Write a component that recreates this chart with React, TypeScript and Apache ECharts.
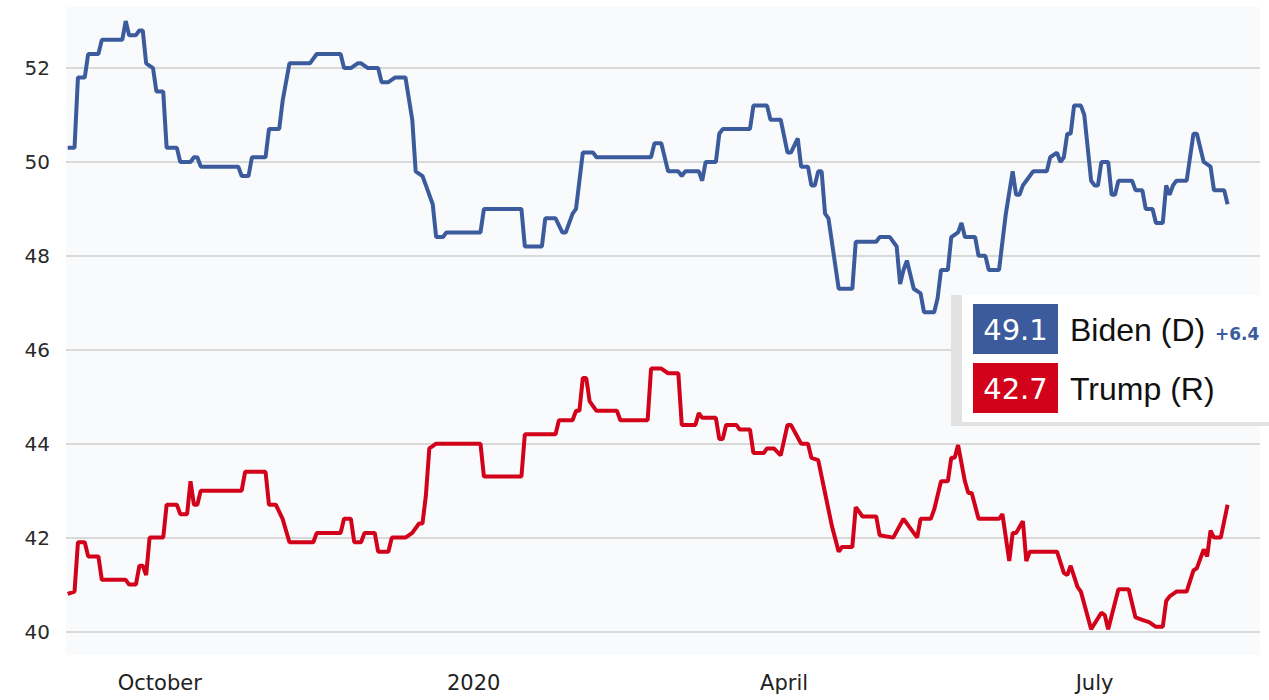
import React, { useEffect, useRef } from "react";
import * as echarts from "echarts";

const bidenDates = [
  "2019-09-04","2019-09-06","2019-09-07","2019-09-09","2019-09-10","2019-09-13","2019-09-14","2019-09-20","2019-09-21","2019-09-22",
  "2019-09-24","2019-09-25","2019-09-26","2019-09-27","2019-09-29","2019-09-30","2019-10-02","2019-10-03","2019-10-06","2019-10-07",
  "2019-10-10","2019-10-11","2019-10-12","2019-10-13","2019-10-24","2019-10-25","2019-10-27","2019-10-28","2019-11-01","2019-11-02",
  "2019-11-05","2019-11-06","2019-11-08","2019-11-14","2019-11-16","2019-11-23","2019-11-24","2019-11-26","2019-11-28","2019-11-29",
  "2019-12-01","2019-12-04","2019-12-05","2019-12-07","2019-12-09","2019-12-12","2019-12-14","2019-12-15","2019-12-17","2019-12-18",
  "2019-12-20","2019-12-21","2019-12-23","2019-12-24","2020-01-03","2020-01-04","2020-01-15","2020-01-16","2020-01-21","2020-01-22",
  "2020-01-25","2020-01-27","2020-01-28","2020-01-30","2020-01-31","2020-02-02","2020-02-05","2020-02-06","2020-02-22","2020-02-23",
  "2020-02-25","2020-02-27","2020-03-01","2020-03-02","2020-03-03","2020-03-07","2020-03-08","2020-03-09","2020-03-12","2020-03-13",
  "2020-03-14","2020-03-22","2020-03-23","2020-03-27","2020-03-28","2020-03-31","2020-04-02","2020-04-03","2020-04-05","2020-04-06",
  "2020-04-08","2020-04-09","2020-04-10","2020-04-11","2020-04-12","2020-04-13","2020-04-14","2020-04-17","2020-04-21","2020-04-22",
  "2020-04-28","2020-04-29","2020-05-02","2020-05-04","2020-05-05","2020-05-06","2020-05-07","2020-05-09","2020-05-11","2020-05-12",
  "2020-05-15","2020-05-16","2020-05-17","2020-05-19","2020-05-20","2020-05-22","2020-05-23","2020-05-24","2020-05-27","2020-05-28",
  "2020-05-30","2020-05-31","2020-06-03","2020-06-05","2020-06-07","2020-06-08","2020-06-09","2020-06-10","2020-06-11","2020-06-13",
  "2020-06-17","2020-06-18","2020-06-20","2020-06-21","2020-06-22","2020-06-23","2020-06-24","2020-06-25","2020-06-27","2020-06-28",
  "2020-06-29","2020-06-30","2020-07-01","2020-07-02","2020-07-03","2020-07-05","2020-07-06","2020-07-07","2020-07-08","2020-07-12",
  "2020-07-13","2020-07-15","2020-07-16","2020-07-18","2020-07-19","2020-07-21","2020-07-22","2020-07-23","2020-07-24","2020-07-25",
  "2020-07-28","2020-07-30","2020-07-31","2020-08-02","2020-08-04","2020-08-05","2020-08-08","2020-08-09"
];
const bidenValues = [
  50.3,50.3,51.8,51.8,52.3,52.3,52.6,52.6,53.0,52.7,
  52.7,52.8,52.8,52.1,52.0,51.5,51.5,50.3,50.3,50.0,
  50.0,50.1,50.1,49.9,49.9,49.7,49.7,50.1,50.1,50.7,
  50.7,51.3,52.1,52.1,52.3,52.3,52.0,52.0,52.1,52.1,
  52.0,52.0,51.7,51.7,51.8,51.8,50.9,49.8,49.7,49.5,
  49.1,48.4,48.4,48.5,48.5,49.0,49.0,48.2,48.2,48.8,
  48.8,48.5,48.5,48.9,49.0,50.2,50.2,50.1,50.1,50.4,
  50.4,49.8,49.8,49.7,49.8,49.8,49.6,50.0,50.0,50.6,
  50.7,50.7,51.2,51.2,50.9,50.9,50.2,50.2,50.5,49.9,
  49.9,49.5,49.5,49.8,49.8,48.9,48.8,47.3,47.3,48.3,
  48.3,48.4,48.4,48.2,47.4,47.7,47.9,47.3,47.2,46.8,
  46.8,47.1,47.7,47.7,48.4,48.5,48.7,48.4,48.4,48.0,
  48.0,47.7,47.7,48.9,49.8,49.3,49.3,49.5,49.6,49.8,
  49.8,50.1,50.2,50.0,50.1,50.6,50.6,51.2,51.2,51.0,
  50.3,49.6,49.5,49.5,50.0,50.0,49.3,49.3,49.6,49.6,
  49.4,49.4,49.0,49.0,48.7,48.7,49.5,49.3,49.5,49.6,
  49.6,50.6,50.6,50.0,49.9,49.4,49.4,49.1
];

const trumpDates = [
  "2019-09-04","2019-09-06","2019-09-07","2019-09-09","2019-09-10","2019-09-13","2019-09-14","2019-09-21","2019-09-22","2019-09-24",
  "2019-09-25","2019-09-26","2019-09-27","2019-09-28","2019-10-02","2019-10-03","2019-10-06","2019-10-07","2019-10-09","2019-10-10",
  "2019-10-11","2019-10-12","2019-10-13","2019-10-25","2019-10-26","2019-11-01","2019-11-02","2019-11-04","2019-11-06","2019-11-08",
  "2019-11-15","2019-11-16","2019-11-23","2019-11-24","2019-11-26","2019-11-27","2019-11-29","2019-11-30","2019-12-03","2019-12-04",
  "2019-12-07","2019-12-08","2019-12-12","2019-12-14","2019-12-16","2019-12-17","2019-12-18","2019-12-19","2019-12-20","2019-12-21",
  "2020-01-03","2020-01-04","2020-01-15","2020-01-16","2020-01-25","2020-01-26","2020-01-30","2020-01-31","2020-02-01","2020-02-02",
  "2020-02-03","2020-02-04","2020-02-06","2020-02-12","2020-02-13","2020-02-21","2020-02-22","2020-02-25","2020-02-27","2020-03-01",
  "2020-03-02","2020-03-06","2020-03-07","2020-03-08","2020-03-12","2020-03-13","2020-03-14","2020-03-15","2020-03-18","2020-03-19",
  "2020-03-22","2020-03-23","2020-03-26","2020-03-27","2020-03-29","2020-03-31","2020-04-02","2020-04-03","2020-04-06","2020-04-08",
  "2020-04-09","2020-04-11","2020-04-13","2020-04-15","2020-04-17","2020-04-18","2020-04-21","2020-04-22","2020-04-24","2020-04-28",
  "2020-04-29","2020-05-03","2020-05-06","2020-05-10","2020-05-11","2020-05-14","2020-05-15","2020-05-17","2020-05-19","2020-05-20",
  "2020-05-21","2020-05-22","2020-05-24","2020-05-25","2020-05-26","2020-05-28","2020-06-03","2020-06-04","2020-06-06","2020-06-07",
  "2020-06-08","2020-06-10","2020-06-11","2020-06-12","2020-06-20","2020-06-22","2020-06-23","2020-06-24","2020-06-26","2020-06-27",
  "2020-06-30","2020-07-03","2020-07-04","2020-07-05","2020-07-08","2020-07-11","2020-07-13","2020-07-15","2020-07-17","2020-07-19",
  "2020-07-21","2020-07-22","2020-07-23","2020-07-25","2020-07-28","2020-07-30","2020-07-31","2020-08-02","2020-08-03","2020-08-04",
  "2020-08-05","2020-08-07","2020-08-09"
];
const trumpValues = [
  40.8,40.85,41.9,41.9,41.6,41.6,41.1,41.1,41.0,41.0,
  41.4,41.4,41.2,42.0,42.0,42.7,42.7,42.5,42.5,43.2,
  42.7,42.7,43.0,43.0,43.4,43.4,42.7,42.7,42.4,41.9,
  41.9,42.1,42.1,42.4,42.4,41.9,41.9,42.1,42.1,41.7,
  41.7,42.0,42.0,42.1,42.3,42.3,42.9,43.9,43.95,44.0,
  44.0,43.3,43.3,44.2,44.2,44.5,44.5,44.7,44.7,45.4,
  45.4,44.9,44.7,44.7,44.5,44.5,45.6,45.6,45.5,45.5,
  44.4,44.4,44.65,44.55,44.55,44.1,44.1,44.4,44.4,44.3,
  44.3,43.8,43.8,43.9,43.9,43.75,44.4,44.4,44.0,44.0,
  43.7,43.65,42.95,42.25,41.7,41.8,41.8,42.65,42.45,42.45,
  42.05,42.0,42.4,42.0,42.4,42.4,42.6,43.2,43.2,43.7,
  43.7,43.97,43.2,42.95,42.95,42.4,42.4,42.5,41.5,42.1,
  42.1,42.35,41.5,41.7,41.7,41.25,41.2,41.4,40.95,40.85,
  40.05,40.4,40.35,40.05,40.9,40.9,40.3,40.25,40.2,40.1,
  40.1,40.65,40.75,40.85,40.85,41.3,41.35,41.75,41.6,42.15,
  42.0,42.0,42.7
];

const yTickValues = [40, 42, 44, 46, 48, 50, 52];
const xTickDates = ["2019-10-01", "2020-01-01", "2020-04-01", "2020-07-01"];
const xTickLabels = ["October", "2020", "April", "July"];
const candidateNames = ["Biden (D)", "Trump (R)"];

const BLUE = "#3b5b9d";
const RED = "#d2021a";

function toTs(s: string) {
  const [y, m, d] = s.split("-").map(Number);
  return Date.UTC(y, m - 1, d);
}

export default function App() {
  const ref = useRef<HTMLDivElement>(null);
  useEffect(() => {
    if (!ref.current) return;
    const chart = echarts.init(ref.current, null, { renderer: "svg" });
    const xTicks = xTickDates.map(toTs);
    const bidenLast = bidenValues[bidenValues.length - 1];
    const trumpLast = trumpValues[trumpValues.length - 1];
    const spread = bidenLast - trumpLast;
    const minTs = toTs("2019-09-03") + 12 * 3600 * 1000;
    const maxTs = toTs("2020-08-18") + 12 * 3600 * 1000;

    chart.setOption({
      animation: false,
      backgroundColor: "#ffffff",
      grid: {
        left: 66,
        right: 9,
        top: 7,
        bottom: 45,
        show: true,
        backgroundColor: "#f9fafc",
        borderWidth: 0,
      },
      xAxis: {
        type: "value",
        min: minTs,
        max: maxTs,
        axisLine: { show: false },
        axisTick: { show: false, customValues: xTicks },
        splitLine: { show: false },
        axisLabel: {
          customValues: xTicks,
          margin: 17,
          color: "#222",
          fontSize: 21,
          fontFamily: "DejaVu Sans",
          formatter: (v: number) => {
            const i = xTicks.findIndex((t) => Math.abs(t - v) < 3600 * 1000 * 13);
            return i >= 0 ? xTickLabels[i] : "";
          },
        },
      },
      yAxis: {
        type: "value",
        min: 39.5,
        max: 53.3,
        axisLine: { show: false },
        axisTick: { show: false, customValues: yTickValues },
        axisLabel: {
          customValues: yTickValues,
          margin: 16,
          color: "#2a2a2a",
          fontSize: 20,
          fontFamily: "DejaVu Sans",
        },
        splitLine: { show: true, lineStyle: { color: "#d9d9d9", width: 2 } },
      },
      series: [
        {
          name: candidateNames[0],
          type: "line",
          symbol: "none",
          data: bidenDates.map((d, i) => [toTs(d), bidenValues[i]]),
          lineStyle: { color: BLUE, width: 4 },
          itemStyle: { color: BLUE },
        },
        {
          name: candidateNames[1],
          type: "line",
          symbol: "none",
          data: trumpDates.map((d, i) => [toTs(d), trumpValues[i]]),
          lineStyle: { color: RED, width: 4 },
          itemStyle: { color: RED },
        },
      ],
      graphic: [
        { type: "rect", shape: { x: 951, y: 295, width: 318, height: 131 }, style: { fill: "#e2e2e2" }, z: 100 },
        { type: "rect", shape: { x: 962, y: 295, width: 307, height: 127 }, style: { fill: "#ffffff" }, z: 101 },
        { type: "rect", shape: { x: 973, y: 304, width: 85, height: 50 }, style: { fill: BLUE }, z: 102 },
        { type: "rect", shape: { x: 973, y: 363, width: 85, height: 50 }, style: { fill: RED }, z: 102 },
        {
          type: "text", x: 1015.5, y: 330, z: 103,
          style: { text: bidenLast.toFixed(1), fill: "#ffffff", font: "29px 'DejaVu Sans'", align: "center", verticalAlign: "middle" },
        },
        {
          type: "text", x: 1015.5, y: 389, z: 103,
          style: { text: trumpLast.toFixed(1), fill: "#ffffff", font: "29px 'DejaVu Sans'", align: "center", verticalAlign: "middle" },
        },
        {
          type: "text", x: 1070, y: 330, z: 103,
          style: { text: candidateNames[0], fill: "#111", font: "32px 'Liberation Sans'", align: "left", verticalAlign: "middle" },
        },
        {
          type: "text", x: 1070, y: 389, z: 103,
          style: { text: candidateNames[1], fill: "#111", font: "32px 'Liberation Sans'", align: "left", verticalAlign: "middle" },
        },
        {
          type: "text", x: 1215, y: 334, z: 103,
          style: { text: "+" + spread.toFixed(1), fill: BLUE, font: "bold 17px 'DejaVu Sans'", align: "left", verticalAlign: "middle" },
        },
      ],
    });
    return () => chart.dispose();
  }, []);
  return <div ref={ref} style={{ position: "fixed", left: 0, top: 0, width: 1269, height: 700 }} />;
}
